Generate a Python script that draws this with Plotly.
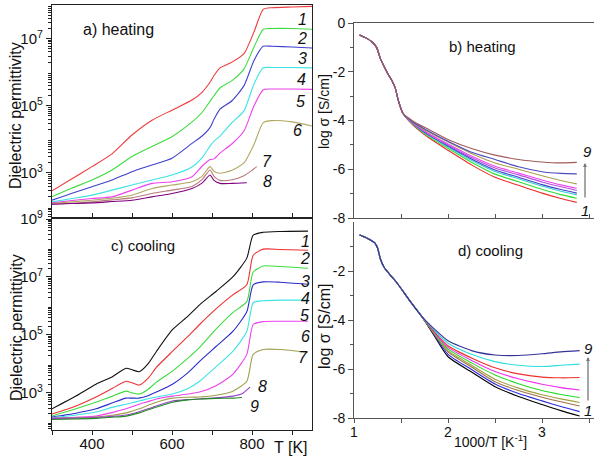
import plotly.graph_objects as go

# ---------------- data ----------------
# a) heating : log10(dielectric permittivity) vs T [K]
T_heat = [300, 350, 400, 450, 500, 550, 600, 650, 675, 695, 705, 720, 750, 780, 805, 828, 850, 900, 950]
heat_eps_1 = [2.47, 2.83, 3.19, 3.57, 4.13, 4.57, 4.87, 5.17, 5.4, 5.7, 5.9, 6.13, 6.3, 6.55, 7.2, 7.87, 7.92, 7.94, 7.96]
heat_eps_2 = [2.29, 2.55, 2.79, 3.09, 3.49, 3.79, 4.08, 4.52, 4.8, 5.13, 5.3, 5.53, 5.75, 6.1, 6.75, 7.27, 7.3, 7.3, 7.28]
heat_eps_3 = [2.19, 2.4, 2.59, 2.79, 3.04, 3.24, 3.44, 3.88, 4.1, 4.35, 4.6, 4.9, 5.15, 5.6, 6.35, 6.77, 6.77, 6.75, 6.72]
heat_eps_4 = [2.14, 2.24, 2.34, 2.49, 2.64, 2.79, 2.94, 3.18, 3.45, 3.8, 3.95, 4.1, 4.5, 4.85, 5.65, 6.13, 6.14, 6.14, 6.13]
heat_eps_5 = [2.11, 2.18, 2.24, 2.29, 2.49, 2.69, 2.74, 2.89, 3.2, 3.4, 3.42, 3.59, 3.87, 4.25, 5.0, 5.48, 5.5, 5.5, 5.49]
heat_eps_6 = [2.09, 2.14, 2.19, 2.25, 2.34, 2.54, 2.64, 2.74, 2.9, 3.19, 3.05, 2.99, 3.08, 3.3, 3.85, 4.5, 4.56, 4.52, 4.4]
T_heat_7 = [300, 350, 400, 450, 500, 550, 600, 650, 675, 695, 705, 720, 750, 780, 800, 812]
heat_eps_7 = [2.07, 2.1, 2.14, 2.2, 2.26, 2.39, 2.49, 2.6, 2.8, 3.09, 2.9, 2.78, 2.8, 2.92, 3.08, 3.19]
T_heat_8 = [300, 350, 400, 450, 500, 550, 600, 650, 675, 695, 705, 720, 750, 787]
heat_eps_8 = [2.07, 2.09, 2.11, 2.15, 2.19, 2.29, 2.39, 2.54, 2.7, 2.94, 2.78, 2.69, 2.69, 2.71]

# c) cooling : log10(dielectric permittivity) vs T [K]
T_cool = [300, 360, 410, 450, 485, 500, 518, 540, 561, 601, 640, 669, 710, 752, 787, 803, 828, 870, 940]
cool_eps_1 = [2.45, 2.89, 3.3, 3.55, 3.85, 3.8, 3.73, 4.0, 4.43, 5.18, 5.65, 6.04, 6.5, 7.0, 7.65, 8.44, 8.54, 8.57, 8.58]
cool_eps_2 = [2.27, 2.55, 2.86, 3.15, 3.4, 3.35, 3.27, 3.5, 3.88, 4.43, 4.95, 5.36, 5.9, 6.38, 6.73, 7.75, 7.96, 7.95, 7.92]
cool_eps_3 = [2.2, 2.45, 2.68, 2.88, 3.06, 3.0, 2.96, 3.12, 3.37, 3.75, 4.2, 4.57, 5.2, 5.77, 6.15, 7.17, 7.38, 7.36, 7.3]
cool_eps_4 = [2.17, 2.3, 2.45, 2.65, 2.82, 2.82, 2.82, 2.9, 3.03, 3.3, 3.7, 4.09, 4.6, 5.12, 5.8, 6.73, 6.83, 6.82, 6.75]
cool_eps_5 = [2.15, 2.24, 2.34, 2.5, 2.61, 2.66, 2.72, 2.8, 2.86, 2.96, 3.15, 3.4, 3.9, 4.43, 5.12, 6.11, 6.18, 6.2, 6.2]
cool_eps_6 = [2.12, 2.16, 2.2, 2.32, 2.45, 2.52, 2.61, 2.7, 2.79, 2.89, 2.96, 3.03, 3.25, 3.64, 4.33, 5.36, 5.46, 5.47, 5.47]
cool_eps_7 = [2.12, 2.14, 2.17, 2.23, 2.31, 2.37, 2.45, 2.57, 2.68, 2.82, 2.85, 2.86, 2.92, 3.06, 3.4, 4.33, 4.5, 4.5, 4.4]
T_cool_8 = [300, 360, 410, 450, 485, 500, 518, 540, 561, 601, 640, 669, 710, 752, 775, 795]
cool_eps_8 = [2.12, 2.13, 2.15, 2.19, 2.24, 2.28, 2.35, 2.45, 2.55, 2.72, 2.77, 2.79, 2.83, 2.89, 2.97, 3.2]
T_cool_9 = [300, 360, 410, 450, 485, 518, 561, 601, 640, 669, 710, 752, 775]
cool_eps_9 = [2.08, 2.1, 2.12, 2.16, 2.2, 2.31, 2.51, 2.68, 2.76, 2.79, 2.81, 2.82, 2.84]

# b) heating : log sigma vs 1000/T
invT_heat = [1.06, 1.12, 1.19, 1.24, 1.28, 1.32, 1.36, 1.40, 1.44, 1.47, 1.52,
             1.63, 1.8, 2.0, 2.25, 2.5, 2.75, 3.0, 3.2, 3.37]
sig_heat_common = [-0.49, -0.6, -0.77, -1.0, -1.45, -1.78, -2.08, -2.34, -2.68, -3.16, -3.7]
sig_heat_1 = [-4.2, -4.72, -5.22, -5.82, -6.33, -6.66, -6.98, -7.2, -7.36]
sig_heat_2 = [-4.17, -4.67, -5.14, -5.71, -6.2, -6.51, -6.82, -7.04, -7.19]
sig_heat_3 = [-4.15, -4.63, -5.08, -5.63, -6.09, -6.39, -6.69, -6.9, -7.05]
sig_heat_4 = [-4.14, -4.61, -5.05, -5.58, -6.03, -6.33, -6.63, -6.83, -6.98]
sig_heat_5 = [-4.13, -4.57, -5.0, -5.52, -5.95, -6.23, -6.52, -6.72, -6.87]
sig_heat_6 = [-4.11, -4.55, -4.96, -5.46, -5.88, -6.16, -6.44, -6.64, -6.78]
sig_heat_7 = [-4.09, -4.49, -4.88, -5.35, -5.74, -6.0, -6.27, -6.46, -6.6]
sig_heat_8 = [-4.07, -4.45, -4.85, -5.3, -5.6, -5.9, -6.1, -6.17, -6.19]
sig_heat_9 = [-4.03, -4.38, -4.78, -5.15, -5.42, -5.6, -5.7, -5.74, -5.72]

# d) cooling : log sigma vs 1000/T
invT_cool = [1.06, 1.15, 1.22, 1.25, 1.28, 1.32, 1.36, 1.45, 1.6, 1.72,
             1.85, 2.0, 2.25, 2.5, 2.75, 3.0, 3.2, 3.4]
sig_cool_common = [-0.53, -0.68, -0.85, -1.05, -1.5, -1.85, -2.05, -2.45, -3.25, -3.85]
sig_cool_1 = [-4.62, -5.5, -6.12, -6.72, -7.12, -7.45, -7.7, -7.92]
sig_cool_2 = [-4.58, -5.4, -6.02, -6.61, -7.0, -7.3, -7.53, -7.74]
sig_cool_3 = [-4.55, -5.3, -5.92, -6.52, -6.88, -7.15, -7.34, -7.51]
sig_cool_4 = [-4.53, -5.25, -5.85, -6.42, -6.78, -7.05, -7.22, -7.37]
sig_cool_5 = [-4.5, -5.18, -5.75, -6.24, -6.6, -6.88, -7.04, -7.16]
sig_cool_6 = [-4.48, -5.12, -5.65, -6.1, -6.4, -6.62, -6.76, -6.86]
sig_cool_7 = [-4.45, -5.05, -5.55, -5.95, -6.2, -6.33, -6.36, -6.35]
sig_cool_8 = [-4.4, -4.95, -5.4, -5.7, -5.85, -5.9, -5.85, -5.8]
sig_cool_9 = [-4.35, -4.85, -5.25, -5.43, -5.45, -5.38, -5.3, -5.25]

heat_colors = ["#ee3b3b", "#3ddc3d", "#4040cc", "#3fe3e3", "#ee40ee", "#b0a860", "#b87a7a", "#800080"]
cool_colors = ["#111111", "#ee3030", "#3ddc3d", "#2a2ac8", "#3fe3e3", "#ee40ee", "#a0a050", "#9a40cc", "#228b22"]
sig_heat_colors = ["#ee2a2a", "#33dd33", "#33d0d0", "#4444cc", "#b050e0", "#ee44ee", "#aaa050", "#4a4ac0", "#a05a5a"]
sig_cool_colors = ["#000000", "#2a2ae0", "#a07048", "#a0a040", "#22dd22", "#ee33ee", "#ee3030", "#33dddd", "#333399"]

FONT = "Liberation Sans, Arial, sans-serif"
W, H = 594, 462

fig = go.Figure()

def line(x, y, color, xa, ya, log=False):
    yy = [10 ** v for v in y] if log else y
    fig.add_trace(go.Scatter(x=x[:len(y)], y=yy, mode="lines", xaxis=xa, yaxis=ya,
                             line=dict(color=color, width=1.1, shape="spline", smoothing=0.6),
                             showlegend=False, hoverinfo="skip"))

heat_series = [(T_heat, heat_eps_1), (T_heat, heat_eps_2), (T_heat, heat_eps_3), (T_heat, heat_eps_4),
               (T_heat, heat_eps_5), (T_heat, heat_eps_6), (T_heat_7, heat_eps_7), (T_heat_8, heat_eps_8)]
for (tx, ty), c in zip(heat_series, heat_colors):
    line(tx, ty, c, "x", "y", log=True)

cool_series = [(T_cool, cool_eps_1), (T_cool, cool_eps_2), (T_cool, cool_eps_3), (T_cool, cool_eps_4),
               (T_cool, cool_eps_5), (T_cool, cool_eps_6), (T_cool, cool_eps_7), (T_cool_8, cool_eps_8),
               (T_cool_9, cool_eps_9)]
for (tx, ty), c in zip(cool_series, cool_colors):
    line(tx, ty, c, "x2", "y2", log=True)

sig_heat = [sig_heat_1, sig_heat_2, sig_heat_3, sig_heat_4, sig_heat_5, sig_heat_6, sig_heat_7, sig_heat_8, sig_heat_9]
for s, c in zip(sig_heat, sig_heat_colors):
    line(invT_heat, sig_heat_common + s, c, "x3", "y3")

sig_cool = [sig_cool_1, sig_cool_2, sig_cool_3, sig_cool_4, sig_cool_5, sig_cool_6, sig_cool_7, sig_cool_8, sig_cool_9]
for s, c in zip(sig_cool, sig_cool_colors):
    line(invT_cool, sig_cool_common + s, c, "x4", "y4")

def px(x):
    return x / W

def py(y):
    return 1 - y / H

log_minor = [k * 10 ** n for n in range(1, 10) for k in range(2, 10)]
sup = {3: "10<sup>3</sup>", 5: "10<sup>5</sup>", 7: "10<sup>7</sup>", 9: "10<sup>9</sup>"}

frame = dict(showline=True, linecolor="#222", linewidth=1.3, mirror=True, showgrid=False, zeroline=False,
             automargin=False,
             tickfont=dict(family=FONT, size=15, color="#111"), tickcolor="#222")
rframe = dict(showline=True, linecolor="#555", linewidth=1, showgrid=False, zeroline=False,
              automargin=False,
              tickfont=dict(family=FONT, size=14, color="#111"), tickcolor="#555")

T_major = [400, 600, 800]
T_minor = [300, 500, 700, 900]
inv_major = [1, 2, 3]
inv_minor = [1.5, 2.5, 3.5]

fig.update_layout(
    width=W, height=H, margin=dict(l=0, r=0, t=0, b=0, pad=0, autoexpand=False),
    paper_bgcolor="white", plot_bgcolor="white", showlegend=False,
    xaxis=dict(domain=[px(52), px(312)], range=[300, 950], anchor="y", ticks="inside", ticklen=4,
               tickvals=T_major, showticklabels=False,
               minor=dict(tickmode="array", tickvals=T_minor, ticks="inside", ticklen=4, tickcolor="#222"),
               **frame),
    yaxis=dict(domain=[py(217), py(5)], type="log", range=[1.69, 8.0], anchor="x", ticks="outside", ticklen=5,
               tickvals=[1e3, 1e5, 1e7], ticktext=[sup[3], sup[5], sup[7]],
               minor=dict(tickmode="array", tickvals=log_minor, ticks="outside", ticklen=3, tickcolor="#222"),
               **frame),
    xaxis2=dict(domain=[px(52), px(312)], range=[300, 950], anchor="y2", ticks="outside", ticklen=4,
                ticklabelstandoff=-4,
                tickvals=T_major, ticktext=[str(v) for v in T_major],
                minor=dict(tickmode="array", tickvals=T_minor, ticks="outside", ticklen=4, tickcolor="#222"),
                **frame),
    yaxis2=dict(domain=[py(430), py(219)], type="log", range=[1.72, 9.0], anchor="x2", ticks="outside", ticklen=5,
                tickvals=[1e3, 1e5, 1e7, 1e9], ticktext=[sup[3], sup[5], sup[7], sup[9]],
                minor=dict(tickmode="array", tickvals=log_minor, ticks="outside", ticklen=3, tickcolor="#222"),
                **frame),
    xaxis3=dict(domain=[px(354), 1.0], range=[1, 3.553], anchor="y3", ticks="inside", ticklen=4, mirror=True,
                tickvals=inv_major, showticklabels=False,
                minor=dict(tickmode="array", tickvals=inv_minor, ticks="inside", ticklen=4, tickcolor="#555"),
                **rframe),
    yaxis3=dict(domain=[py(218), py(23)], range=[-8, 0], anchor="x3", ticks="outside", ticklen=5,
                tickvals=[0, -2, -4, -6, -8], ticktext=["0", "-2", "-4", "-6", "-8"],
                minor=dict(tickmode="array", tickvals=[-1, -3, -5, -7], ticks="outside", ticklen=3, tickcolor="#555"),
                **rframe),
    xaxis4=dict(domain=[px(354), 1.0], range=[1, 3.553], anchor="y4", ticks="outside", ticklen=4,
                ticklabelstandoff=-3,
                tickvals=inv_major, ticktext=[str(v) for v in inv_major],
                minor=dict(tickmode="array", tickvals=inv_minor, ticks="outside", ticklen=4, tickcolor="#555"),
                **rframe),
    yaxis4=dict(domain=[py(418), py(222)], range=[-8, 0], anchor="x4", ticks="outside", ticklen=5,
                tickvals=[-2, -4, -6, -8], ticktext=["-2", "-4", "-6", "-8"],
                minor=dict(tickmode="array", tickvals=[-1, -3, -5, -7], ticks="outside", ticklen=3, tickcolor="#555"),
                **rframe),
)

anns = []

def ann(text, x, y, size, italic=False, angle=0, color="#111"):
    anns.append(dict(text=f"<i>{text}</i>" if italic else text, x=px(x), y=py(y), xref="paper", yref="paper",
                     showarrow=False, textangle=angle, xanchor="center", yanchor="middle",
                     font=dict(family=FONT, size=size, color=color)))

ann("Dielectric permittivity", 16, 116, 16, angle=-90)
ann("Dielectric permittivity", 16, 328, 16, angle=-90)
ann("log σ [S/cm]", 324, 112, 14, angle=-90)
ann("log σ [S/cm]", 324, 327, 16, angle=-90)
ann("T [K]", 291, 447, 16)
ann("1000/T [K<sup>-1</sup>]", 490, 441, 14)
ann("a) heating", 118, 29, 16)
ann("b) heating", 482, 47, 15)
ann("c) cooling", 143, 246, 15)
ann("d) cooling", 490, 250, 15)

for lab, (x, y) in zip("12345678", [(302, 20), (302, 39), (302, 59), (301, 79), (300, 102), (297, 130), (267, 161), (267, 181)]):
    ann(lab, x, y, 16, italic=True)
for lab, (x, y) in zip("123456789", [(305, 241), (305, 258), (305, 281), (305, 298), (304, 315), (305, 336), (303, 357), (262, 386), (254, 406)]):
    ann(lab, x, y, 16, italic=True)

ann("9", 587, 151, 15, italic=True)
ann("1", 585, 210, 15, italic=True)
ann("9", 588, 348, 15, italic=True)
ann("1", 588, 410, 15, italic=True)

anns.append(dict(x=px(585), y=py(163), xref="paper", yref="paper", ax=0, ay=36, showarrow=True,
                 arrowhead=2, arrowsize=0.6, arrowwidth=1.3, arrowcolor="#777", text=""))
anns.append(dict(x=px(588), y=py(357), xref="paper", yref="paper", ax=0, ay=45, showarrow=True,
                 arrowhead=2, arrowsize=0.6, arrowwidth=1.3, arrowcolor="#777", text=""))

fig.update_layout(annotations=anns)
fig.write_html("out.html", config={"displayModeBar": False},
               post_script="document.body.style.margin='0';document.body.style.overflow='hidden';")
